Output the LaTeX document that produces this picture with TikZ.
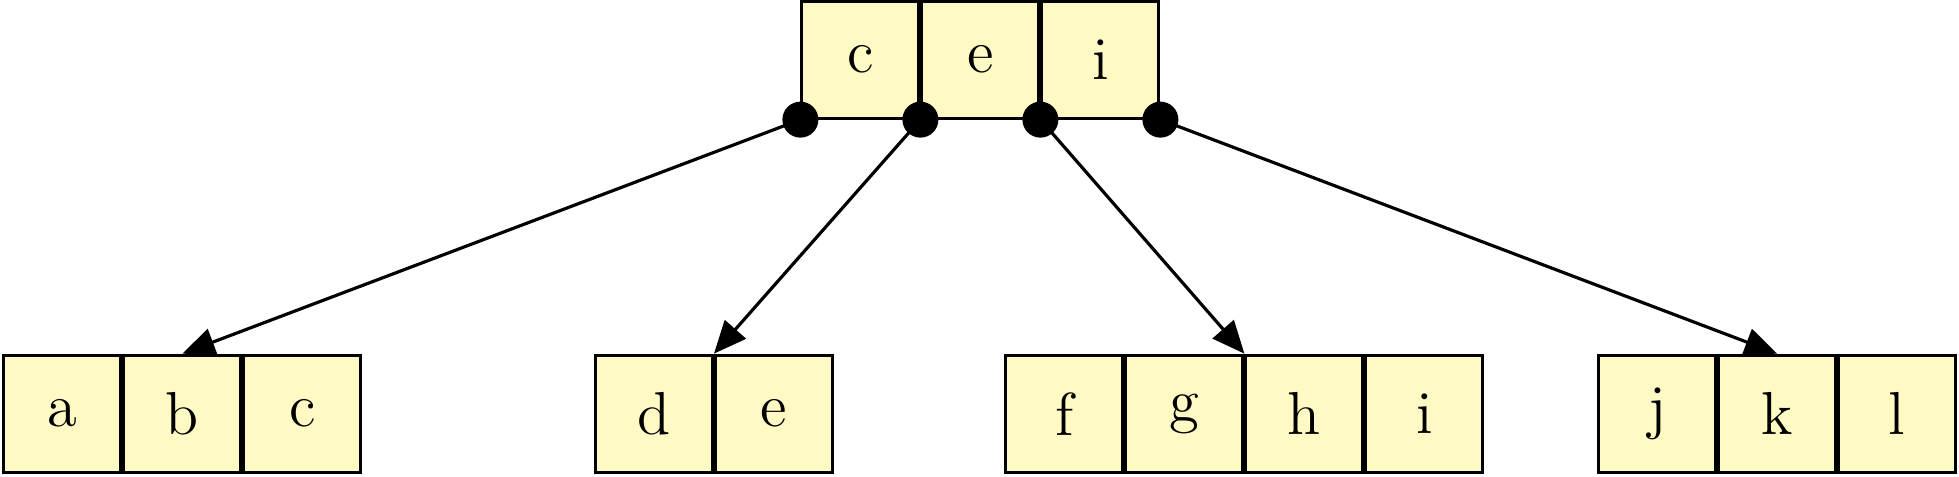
\documentclass[tikz,border=0pt]{standalone}
\usetikzlibrary{arrows.meta}
\definecolor{cellfill}{RGB}{255,249,196}
\begin{document}
\begin{tikzpicture}[
    cell/.style={draw, fill=cellfill, line width=0.7pt, minimum width=1cm-0.7pt,
      minimum height=1cm-0.7pt, inner sep=0pt, font=\Large},
    ptr/.style={line width=0.75pt, -{Triangle[length=7.7pt,width=6.6pt]}},
    dot/.style={fill=black}
  ]
    \useasboundingbox (-0.02,-0.02) rectangle (16.305,3.947);
    % root
    \node[cell] (root1) at (7.15,3.45) {c};
    \node[cell] (root2) at (8.15,3.45) {e};
    \node[cell] (root3) at (9.15,3.45) {i};
    % leaves
    \node[cell] (a1) at (0.5,0.5) {a};
    \node[cell] (b1) at (1.5,0.5) {b};
    \node[cell] (c1) at (2.5,0.5) {c};
    \node[cell] (d2) at (5.43,0.5) {d};
    \node[cell] (e2) at (6.43,0.5) {e};
    \node[cell] (f3) at (8.85,0.5) {f};
    \node[cell] (g3) at (9.85,0.5) {g};
    \node[cell] (h3) at (10.85,0.5) {h};
    \node[cell] (i3) at (11.85,0.5) {i};
    \node[cell] (j4) at (13.79,0.5) {j};
    \node[cell] (k4) at (14.79,0.5) {k};
    \node[cell] (l4) at (15.79,0.5) {l};
    \draw[ptr] (root1.south west) -- (b1.north);
    \draw[ptr] (root2.south west) -- (d2.north east);
    \draw[ptr] (root3.south west) -- (g3.north east);
    \draw[ptr] (root3.south east) -- (k4.north);
    \fill[dot] (root1.south west) circle (0.15);
    \fill[dot] (root2.south west) circle (0.15);
    \fill[dot] (root3.south west) circle (0.15);
    \fill[dot] (root3.south east) circle (0.15);
  \end{tikzpicture}
\end{document}
